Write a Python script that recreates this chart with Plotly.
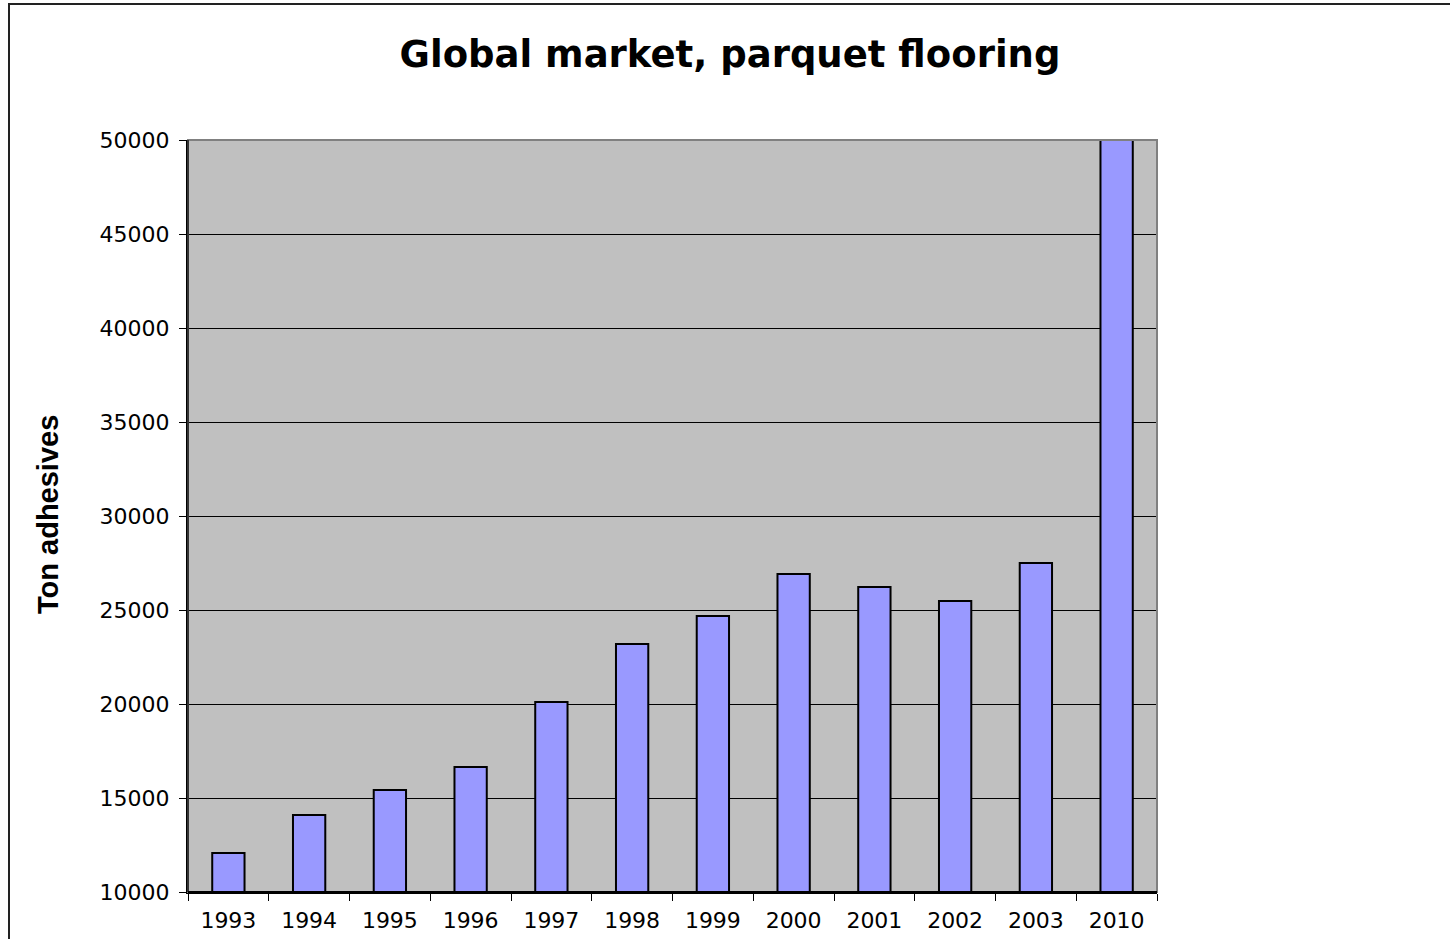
import plotly.graph_objects as go

years = ["1993", "1994", "1995", "1996", "1997", "1998", "1999", "2000", "2001", "2002", "2003", "2010"]
tons = [12080, 14100, 15430, 16650, 20110, 23190, 24680, 26920, 26220, 25480, 27500, 50000]
y_ticks = [10000, 15000, 20000, 25000, 30000, 35000, 40000, 45000, 50000]

W, H = 1450, 939
L, R, T, B = 188, 1157, 140, 892
pw, ph = R - L, B - T

fig = go.Figure(go.Bar(
    x=years, y=tons,
    marker=dict(color="#9999FF", line=dict(color="black", width=2)),
    width=0.4,
))

fig.update_layout(
    width=W, height=H,
    margin=dict(l=L, r=W - R, t=T, b=H - B),
    paper_bgcolor="white",
    plot_bgcolor="#C0C0C0",
    showlegend=False,
    title=dict(text="<b>Global market, parquet flooring</b>",
               x=730 / W, xanchor="center", y=1 - 54 / H, yanchor="middle",
               font=dict(family="DejaVu Sans", size=37, color="black")),
    font=dict(family="DejaVu Sans", color="black"),
)

fig.update_yaxes(
    range=[10000, 50000], tickvals=y_ticks, ticktext=[str(v) for v in y_ticks],
    showgrid=True, gridcolor="black", gridwidth=1,
    showline=True, linecolor="black", linewidth=2,
    ticks="outside", ticklen=7, tickcolor="black", tickwidth=1,
    ticklabelstandoff=5, automargin=False,
    tickfont=dict(family="DejaVu Sans", size=22, color="black"),
    zeroline=False,
)
fig.update_xaxes(
    type="category",
    showline=True, linecolor="black", linewidth=2,
    ticks="outside", tickson="boundaries", ticklen=7, tickcolor="black", tickwidth=1,
    ticklabelstandoff=8, automargin=False,
    tickfont=dict(family="DejaVu Sans", size=22, color="black"),
    showgrid=False,
)

# plot area border (gray top/right)
fig.add_shape(type="rect", xref="paper", yref="paper", x0=0, x1=1, y0=0, y1=1,
              line=dict(color="#808080", width=2), layer="above")
fig.add_shape(type="line", xref="paper", yref="paper", x0=0, x1=0, y0=0, y1=1,
              line=dict(color="#333333", width=2), layer="above")
fig.add_shape(type="line", xref="paper", yref="paper", x0=0, x1=1, y0=0, y1=0,
              line=dict(color="black", width=2), layer="above")

# outer chart frame
fig.add_shape(type="rect", xref="paper", yref="paper",
              x0=(9 - L) / pw, x1=1.5, y0=-0.3, y1=1 + (T - 4) / ph,
              line=dict(color="#222222", width=2), layer="above")

fig.add_annotation(text="<b>Ton adhesives</b>", textangle=-90,
                   xref="paper", yref="paper", x=(48 - L) / pw, y=(B - 515) / ph,
                   xanchor="center", yanchor="middle", showarrow=False,
                   font=dict(family="Liberation Sans", size=29, color="black"))

fig.write_html("out.html", config={"displayModeBar": False},
               post_script="document.body.style.margin='0px';document.body.style.overflow='hidden';")
